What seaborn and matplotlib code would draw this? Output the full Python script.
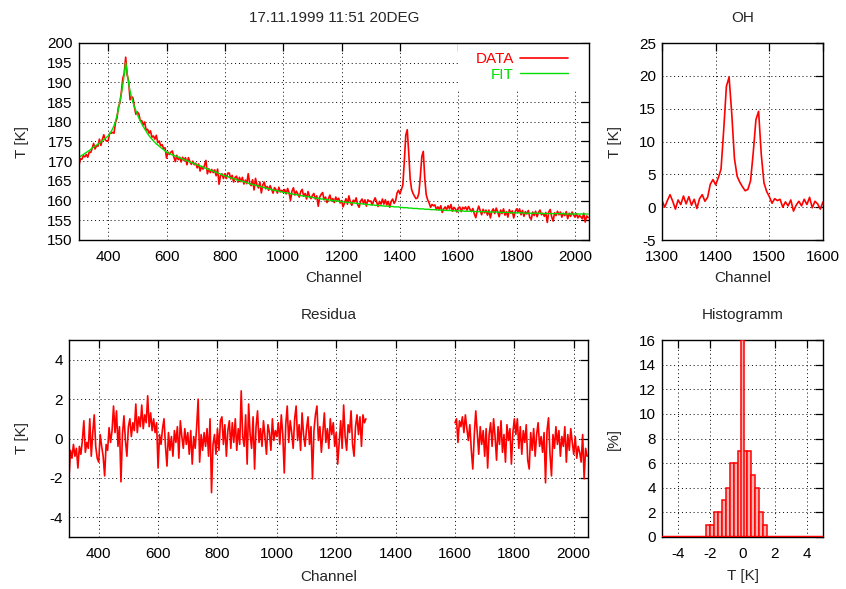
import numpy as np
import matplotlib
matplotlib.use("Agg")
import matplotlib.pyplot as plt
from matplotlib.patches import Rectangle
import seaborn as sns

# ---------------- data ----------------
# spectrum sampled every 5th channel, 300 .. 2045
ch_start, ch_stop, ch_step = 300, 2045, 5

# fitted continuum + maser line [K]
fit_temp = [
    171.0, 171.2, 171.5, 171.7, 172.0, 172.2, 172.5, 172.7, 173.0, 173.3,
    173.6, 173.8, 174.1, 174.3, 174.6, 174.9, 175.2, 175.5, 175.8, 176.1,
    176.4, 176.9, 177.5, 178.2, 179.0, 180.1, 181.5, 183.1, 185.0, 187.0,
    189.3, 192.0, 195.0, 192.3, 189.8, 187.8, 186.2, 184.9, 183.8, 182.8,
    181.9, 181.0, 180.2, 179.5, 178.8, 178.2, 177.6, 177.0, 176.5, 176.0,
    175.6, 175.2, 174.8, 174.4, 174.1, 173.8, 173.5, 173.2, 172.9, 172.6,
    172.3, 172.1, 172.0, 171.8, 171.6, 171.5, 171.3, 171.2, 171.0, 170.9,
    170.7, 170.6, 170.4, 170.3, 170.1, 170.0, 169.8, 169.7, 169.5, 169.4,
    169.2, 169.1, 168.9, 168.8, 168.6, 168.5, 168.3, 168.2, 168.0, 167.9,
    167.7, 167.6, 167.5, 167.3, 167.2, 167.0, 166.9, 166.7, 166.6, 166.4,
    166.3, 166.2, 166.1, 165.9, 165.8, 165.7, 165.6, 165.5, 165.3, 165.2,
    165.1, 165.0, 164.9, 164.8, 164.7, 164.6, 164.4, 164.3, 164.2, 164.1,
    164.0, 163.9, 163.8, 163.7, 163.6, 163.5, 163.4, 163.3, 163.2, 163.1,
    163.0, 162.9, 162.8, 162.7, 162.6, 162.5, 162.5, 162.4, 162.3, 162.2,
    162.1, 162.0, 162.0, 161.9, 161.8, 161.8, 161.7, 161.6, 161.6, 161.5,
    161.4, 161.4, 161.3, 161.2, 161.2, 161.1, 161.0, 161.0, 160.9, 160.9,
    160.8, 160.7, 160.7, 160.6, 160.6, 160.5, 160.4, 160.4, 160.3, 160.3,
    160.2, 160.2, 160.1, 160.1, 160.0, 160.0, 159.9, 159.9, 159.8, 159.8,
    159.7, 159.7, 159.6, 159.6, 159.6, 159.5, 159.5, 159.4, 159.4, 159.4,
    159.3, 159.3, 159.2, 159.2, 159.2, 159.1, 159.1, 159.0, 159.0, 159.0,
    158.9, 158.9, 158.9, 158.8, 158.8, 158.8, 158.7, 158.7, 158.7, 158.6,
    158.6, 158.6, 158.6, 158.5, 158.5, 158.5, 158.4, 158.4, 158.4, 158.4,
    158.3, 158.3, 158.2, 158.2, 158.2, 158.2, 158.1, 158.1, 158.1, 158.0,
    158.0, 158.0, 158.0, 157.9, 157.9, 157.9, 157.9, 157.8, 157.8, 157.8,
    157.8, 157.7, 157.7, 157.7, 157.7, 157.7, 157.6, 157.6, 157.6, 157.6,
    157.6, 157.5, 157.5, 157.5, 157.5, 157.5, 157.4, 157.4, 157.4, 157.4,
    157.4, 157.4, 157.4, 157.4, 157.3, 157.3, 157.3, 157.3, 157.3, 157.3,
    157.3, 157.2, 157.2, 157.2, 157.2, 157.2, 157.2, 157.2, 157.2, 157.2,
    157.2, 157.1, 157.1, 157.1, 157.1, 157.1, 157.1, 157.1, 157.0, 157.0,
    157.0, 157.0, 157.0, 157.0, 157.0, 157.0, 156.9, 156.9, 156.9, 156.9,
    156.9, 156.9, 156.9, 156.9, 156.9, 156.8, 156.8, 156.8, 156.8, 156.8,
    156.8, 156.8, 156.8, 156.8, 156.8, 156.8, 156.8, 156.8, 156.7, 156.7,
    156.7, 156.7, 156.7, 156.7, 156.7, 156.7, 156.7, 156.7, 156.7, 156.7,
    156.7, 156.7, 156.7, 156.6, 156.6, 156.6, 156.6, 156.6, 156.6, 156.6,
    156.6, 156.6, 156.6, 156.6, 156.6, 156.6, 156.6, 156.6, 156.6, 156.6,
]

# residuals DATA - FIT [K], channels 300 .. 1300
residual_low = [
    -2.0, -0.6, -1.0, -0.3, -0.9, -0.5, -1.5, -0.4, -0.8, -0.1,
    0.9, -0.7, -0.2, -0.5, 1.0, -0.9, 0.3, 1.2, -0.4, -1.0,
    -1.2, 0.2, -0.4, -0.9, -1.9, -0.3, -0.6, 0.55, -0.2, 0.4,
    1.65, 0.3, 1.4, -0.4, 0.6, -2.2, 0.2, 1.15, -0.1, -0.9,
    0.6, 1.0, 0.1, 0.8, 0.4, 1.75, 0.3, 1.1, 0.6, 1.7,
    0.5, 1.2, 0.8, 2.17, 0.6, 1.3, 0.4, 1.0, 0.3, 0.8,
    -1.5, 0.2, -0.3, 0.5, 1.0, -0.4, -1.4, 0.3, -0.6, 0.1,
    -0.9, 0.4, -0.2, 0.6, -1.0, 0.9, 0.1, -0.5, 0.5, -0.3,
    0.3, -0.8, 0.4, -1.3, 0.1, -0.5, 0.6, 2.0, -1.2, 0.2,
    -0.6, 0.3, -0.4, 0.5, -0.9, 1.0, -2.75, -0.3, 0.2, -0.8,
    0.5, -0.6, 0.9, 1.1, -0.3, 0.7, -0.9, 0.4, 0.9, -0.5,
    0.8, -0.2, 1.0, -0.6, 0.5, -0.3, 2.42, 0.1, -0.4, 1.2,
    -1.3, 1.75, 0.2, -0.5, 1.1, -1.55, 0.6, 1.4, -0.2, 0.5,
    -0.4, 0.9, 0.1, -0.8, 0.7, 0.3, -0.6, 1.0, -0.1, 0.4,
    0.1, 0.8, -0.3, 1.2, 0.2, -1.75, 0.7, 1.65, -0.2, 0.9,
    0.3, -0.5, 1.0, 1.65, -0.1, 0.7, -0.6, 1.3, 0.2, -0.4,
    0.5, 1.1, -0.3, 0.6, -2.05, 0.4, 1.2, 1.65, -0.1, 0.6,
    -0.7, 0.3, 1.3, -0.2, 0.5, -0.5, 1.0, 0.2, 0.8, -0.4,
    0.3, -1.3, -0.2, 0.9, -0.5, 1.7, 0.1, -0.6, 0.7, 0.3,
    1.4, -0.3, -0.9, 0.6, 1.2, 0.2, 1.1, -0.4, 1.2, 0.8,
    1.0,
]

# OH emission above the fit [K], channels 1300 .. 1600
oh_excess = [
    1.0, 0.0, 1.0, 1.9, 0.9, -0.3, 1.1, 0.4, 1.7, 0.5,
    1.6, 0.3, 1.2, -0.2, 1.3, 1.9, 0.9, 1.5, 3.5, 4.2,
    3.4, 4.5, 5.8, 11.8, 18.4, 19.8, 14.2, 7.4, 4.7, 3.8,
    3.1, 2.5, 2.7, 4.0, 8.3, 13.3, 14.6, 8.0, 3.7, 2.4,
    1.6, 0.6, 1.3, 1.0, 1.2, 0.0, 0.8, 0.2, 1.1, -0.6,
    0.3, 0.9, 0.2, 1.2, 0.4, 1.5, -0.1, 0.9, 0.5, -0.3,
    0.8,
]

# residuals DATA - FIT [K], channels 1600 .. 2045
residual_high = [
    0.8, 1.0, -0.2, 0.9, 0.6, 1.1, 0.3, 1.2, 0.5, -0.1,
    0.7, -0.6, -1.55, 0.2, 1.4, 0.3, -0.8, 0.6, -0.3, 0.4,
    -0.9, 0.5, -1.5, 0.2, 0.8, -0.4, 1.0, 0.1, -1.1, 0.6,
    -0.3, 0.9, -0.7, 0.2, -1.2, 0.7, -0.1, 0.5, -1.3, 0.3,
    1.0, 0.2, 1.0, -0.5, 0.6, -0.8, 0.4, -0.2, 0.7, -1.1,
    -1.55, 0.3, -0.6, 0.5, -0.9, 0.2, 0.8, -0.4, 0.1, -0.7,
    0.3, -2.25, 0.4, 1.05, -0.8, -1.9, 0.2, -0.5, 0.6, -0.3,
    0.4, -0.9, 0.1, -0.4, 0.6, -1.2, 0.2, -0.6, 0.5, -0.2,
    -0.8, 0.1, -1.0, -0.4, -0.7, -1.2, 0.2, -2.05, -0.5, -0.9,
]

# residual histogram [%], bins of 0.25 K given by their lower edge
hist_lower_edge = [
    -2.25, -2.0, -1.75, -1.5, -1.25, -1.0, -0.75, -0.5,
    -0.25, 0.0, 0.25, 0.5, 0.75, 1.0, 1.25,
]
hist_pct = [1, 1, 2, 2, 3, 4, 6, 6, 7, 7, 7, 5, 4, 2, 1]
hist_bin_width = 0.25
zero_bin_pct = 16          # masked OH window counts as exactly zero

assert len(fit_temp) == (ch_stop - ch_start) // ch_step + 1
assert len(residual_low) == 201 and len(oh_excess) == 61 and len(residual_high) == 90

channels = np.arange(ch_start, ch_stop + 1, ch_step)
fit = np.asarray(fit_temp)
res_low = np.asarray(residual_low)
res_high = np.asarray(residual_high)
oh = np.asarray(oh_excess)
ch_low = channels[channels <= 1300]
ch_oh = np.arange(1300, 1601, ch_step)
ch_high = channels[channels >= 1600]

excess = np.concatenate([res_low[:-1], oh[:-1], res_high])
data = fit + excess

# ---------------- style ----------------
sns.set_style("white")
plt.rcParams["font.family"] = ["Liberation Sans", "DejaVu Sans"]
plt.rcParams["font.size"] = 11
plt.rcParams["axes.linewidth"] = 1.0
plt.rcParams["axes.edgecolor"] = "black"
plt.rcParams["axes.unicode_minus"] = False

RED = "#ff0000"
GREEN = "#00e000"
PINK = "#ffb4b4"
GRID = dict(color="black", linestyle=(0, (1, 3)), linewidth=0.7)
LW = 1.2

W, H = 846, 589
fig = plt.figure(figsize=(W / 100, H / 100), dpi=100)


def px_axes(left, top, right, bottom):
    return fig.add_axes([left / W, 1 - bottom / H, (right - left) / W, (bottom - top) / H])


def gp_style(ax, ylab_x, xlab_y):
    ax.set_axisbelow(True)
    ax.grid(True, **GRID)
    ax.tick_params(direction="in", top=True, right=True, length=5.5, width=0.9,
                   colors="black", labelsize=11)
    ax.tick_params(axis="x", pad=7)
    ax.tick_params(axis="y", pad=4.5)
    for s in ax.spines.values():
        s.set_visible(True)
        s.set_color("black")
        s.set_linewidth(1.0)
    ax.yaxis.set_label_coords(ylab_x, 0.5)
    ax.xaxis.set_label_coords(0.5, xlab_y)


def set_title(ax, text):
    ax.set_title(text, y=1.127, va="center", fontsize=11, pad=0)


ax_main = px_axes(79, 43, 589, 240)
ax_oh = px_axes(662, 43, 823, 240)
ax_res = px_axes(69, 340, 588, 537)
ax_hist = px_axes(662, 340, 823, 537)

# --- spectrum with fit ---
sns.lineplot(x=channels, y=data, ax=ax_main, color=RED, linewidth=LW,
             estimator=None, sort=False, label="DATA")
sns.lineplot(x=channels, y=fit, ax=ax_main, color=GREEN, linewidth=1.0,
             estimator=None, sort=False, label="FIT")
ax_main.set_xlim(300, 2048)
ax_main.set_ylim(150, 200)
ax_main.set_xticks(np.arange(400, 2001, 200))
ax_main.set_yticks(np.arange(150, 201, 5))
ax_main.set_xlabel("Channel", va="center")
ax_main.set_ylabel("T [K]", va="center")
set_title(ax_main, "17.11.1999 11:51 20DEG")
gp_style(ax_main, -0.112, -0.193)
# key area is kept clear of the grid
ax_main.add_patch(Rectangle((0.743, 0.765), 0.257, 0.235, transform=ax_main.transAxes,
                            facecolor="white", edgecolor="none", zorder=1))
ax_main.legend(loc="upper right", bbox_to_anchor=(0.958, 0.955), frameon=False,
               markerfirst=False, labelcolor="linecolor", handlelength=3.1,
               handletextpad=0.4, labelspacing=0.12, borderpad=0, borderaxespad=0,
               fontsize=11)

# --- OH lines ---
sns.lineplot(x=ch_oh, y=oh, ax=ax_oh, color=RED, linewidth=LW,
             estimator=None, sort=False)
ax_oh.set_xlim(1300, 1600)
ax_oh.set_ylim(-5, 25)
ax_oh.set_xticks(np.arange(1300, 1601, 100))
ax_oh.set_yticks(np.arange(-5, 26, 5))
ax_oh.set_xlabel("Channel", va="center")
ax_oh.set_ylabel("T [K]", va="center")
set_title(ax_oh, "OH")
gp_style(ax_oh, -0.29, -0.193)

# --- residuals ---
sns.lineplot(x=ch_low, y=res_low, ax=ax_res, color=RED, linewidth=LW,
             estimator=None, sort=False)
sns.lineplot(x=ch_high, y=res_high, ax=ax_res, color=RED, linewidth=LW,
             estimator=None, sort=False)
ax_res.set_xlim(300, 2048)
ax_res.set_ylim(-5, 5)
ax_res.set_xticks(np.arange(400, 2001, 200))
ax_res.set_yticks([-4, -2, 0, 2, 4])
ax_res.set_xlabel("Channel", va="center")
ax_res.set_ylabel("T [K]", va="center")
set_title(ax_res, "Residua")
gp_style(ax_res, -0.09, -0.203)

# --- histogram of residuals ---
centres = np.asarray(hist_lower_edge) + hist_bin_width / 2
sns.histplot(x=centres, weights=hist_pct, ax=ax_hist, binwidth=hist_bin_width,
             binrange=(hist_lower_edge[0], hist_lower_edge[-1] + hist_bin_width),
             color=PINK, edgecolor=RED, linewidth=1.1, alpha=1.0)
ax_hist.bar(0.0, zero_bin_pct, width=0.2, color=PINK, edgecolor=RED,
            linewidth=1.1, zorder=3)
ax_hist.axhline(0, color=RED, linewidth=2.5, zorder=4)
ax_hist.set_xlim(-5, 5)
ax_hist.set_ylim(0, 16)
ax_hist.set_xticks([-4, -2, 0, 2, 4])
ax_hist.set_yticks(np.arange(0, 17, 2))
ax_hist.set_xlabel("T [K]", va="center")
ax_hist.set_ylabel("[%]", va="center")
set_title(ax_hist, "Histogramm")
gp_style(ax_hist, -0.30, -0.198)

fig.savefig("out.png", dpi=100)
